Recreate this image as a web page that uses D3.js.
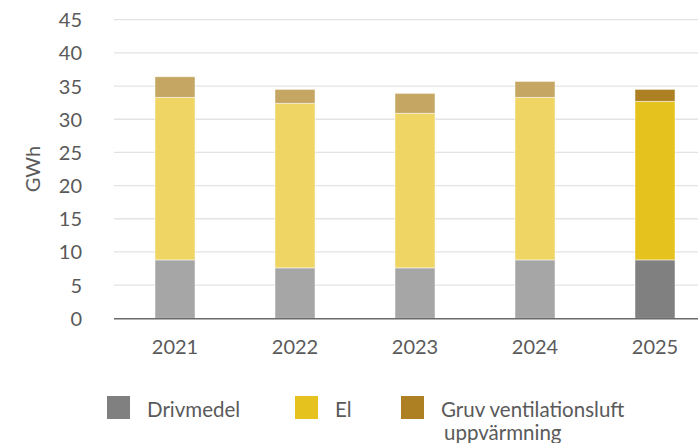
<!DOCTYPE html>
<html>
<head>
<meta charset="utf-8">
<script src="https://cdn.jsdelivr.net/npm/d3@7"></script>
<style>
  body { margin: 0; background: #fff; }
  svg { display: block; font-family: Lato, "Open Sans", sans-serif; }
</style>
</head>
<body>
<div id="chart"></div>
<script>
// --- Data (GWh per year) ---
const years = ["2021", "2022", "2023", "2024", "2025"];
const drivmedel = [8.8, 7.6, 7.6, 8.8, 8.8];
const el = [24.5, 24.8, 23.3, 24.5, 23.9];
const gruvLuft = [3.1, 2.1, 3.0, 2.4, 1.8];
const seriesNames = ["Drivmedel", "El", "Gruv ventilationsluft uppvärmning"];
const yTicks = [0, 5, 10, 15, 20, 25, 30, 35, 40, 45];
const highlightYear = "2025";

// --- Config ---
const W = 698, H = 443;
const PLOT = { left: 115, right: 715, top: 19.7, bottom: 318.3 };
const FONT_SIZE = "20px";
const lightColors = ["#a6a6a6", "#efd563", "#c5a663"];
const darkColors = ["#808080", "#e6c21f", "#ad8123"];
const TEXT = "#5a5a5a";

const rows = years.map((y, i) => ({ year: y, s0: drivmedel[i], s1: el[i], s2: gruvLuft[i] }));
const stacked = d3.stack().keys(["s0", "s1", "s2"])(rows);

const svg = d3.select("#chart").append("svg")
    .attr("width", W)
    .attr("height", H);

const x = d3.scaleBand()
    .domain(years)
    .range([PLOT.left, PLOT.right])
    .paddingInner(2 / 3)
    .paddingOuter(1 / 3);

const y = d3.scaleLinear()
    .domain([0, 45])
    .range([PLOT.bottom, PLOT.top]);

// gridlines
svg.append("g")
    .selectAll("line")
    .data(yTicks.slice(1))
    .join("line")
    .attr("x1", 114)
    .attr("x2", W)
    .attr("y1", d => y(d))
    .attr("y2", d => y(d))
    .attr("stroke", "#e3e3e3")
    .attr("stroke-width", 1.3);

// y axis labels
const yAxis = d3.axisLeft(y).tickValues(yTicks).tickSize(0).tickPadding(0);
svg.append("g")
    .attr("transform", "translate(82,0)")
    .call(yAxis)
    .call(g => g.select(".domain").remove())
    .selectAll("text")
    .attr("font-size", FONT_SIZE)
    .attr("font-family", "Lato, sans-serif")
    .attr("fill", TEXT)
    .attr("dy", "0.35em");

svg.append("text")
    .attr("transform", "translate(40,169) rotate(-90)")
    .attr("text-anchor", "middle")
    .attr("font-size", FONT_SIZE)
    .attr("fill", TEXT)
    .text("GWh");

// bars
svg.append("g")
    .selectAll("g")
    .data(stacked)
    .join("g")
    .each(function (series, si) {
        d3.select(this).selectAll("rect")
            .data(series)
            .join("rect")
            .attr("x", d => x(d.data.year))
            .attr("width", x.bandwidth())
            .attr("y", d => y(d[1]))
            .attr("height", d => y(d[0]) - y(d[1]))
            .attr("fill", d => d.data.year === highlightYear ? darkColors[si] : lightColors[si])
            .attr("stroke", "#fff")
            .attr("stroke-opacity", 0.6)
            .attr("stroke-width", 0.8);
    });

// x axis
const xAxis = d3.axisBottom(x).tickSize(0).tickPadding(0);
svg.append("g")
    .attr("transform", `translate(0,${PLOT.bottom})`)
    .call(xAxis)
    .call(g => g.select(".domain").remove())
    .selectAll("text")
    .attr("font-size", FONT_SIZE)
    .attr("font-family", "Lato, sans-serif")
    .attr("fill", TEXT)
    .attr("y", 35.5)
    .attr("dy", 0);

svg.append("line")
    .attr("x1", 114)
    .attr("x2", W)
    .attr("y1", PLOT.bottom + 0.5)
    .attr("y2", PLOT.bottom + 0.5)
    .attr("stroke", "#6b6b6b")
    .attr("stroke-width", 1.6);

// legend
const legendX = [107, 295, 401];
const legend = svg.append("g");
seriesNames.forEach((name, i) => {
    const g = legend.append("g").attr("transform", `translate(${legendX[i]},396)`);
    g.append("rect")
        .attr("width", 23)
        .attr("height", 23)
        .attr("fill", darkColors[i]);
    const t = g.append("text")
        .attr("x", 40)
        .attr("y", 21)
        .attr("font-size", "20.5px")
        .attr("fill", TEXT);
    if (i === 2) {
        t.append("tspan").text("Gruv ventilationsluft");
        t.append("tspan").attr("x", 43).attr("dy", 23).text("uppvärmning");
    } else {
        t.text(name);
    }
});
</script>
</body>
</html>
